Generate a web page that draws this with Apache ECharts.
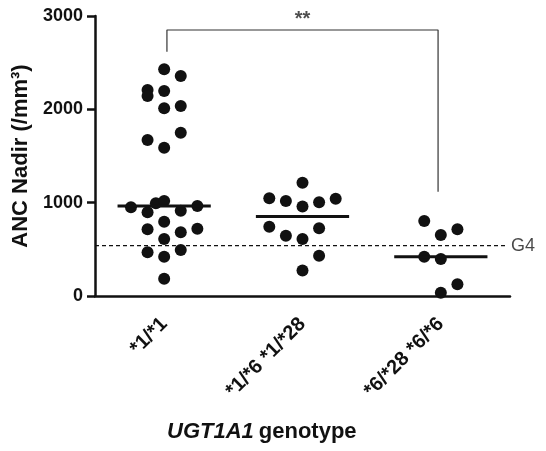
<!DOCTYPE html>
<html>
<head>
<meta charset="utf-8">
<script src="https://cdn.jsdelivr.net/npm/echarts@6/dist/echarts.min.js"></script>
<style>html,body{margin:0;padding:0;background:#fff}#c{width:546px;height:451px}</style>
</head>
<body>
<div id="c"></div>
<script>
// ---- data ----
var categories = ['*1/*1', '*1/*6 *1/*28', '*6/*28 *6/*6'];
var group1 = [2429, 2357, 2207, 2143, 2196, 2011, 2036, 1671, 1589, 1750,
              993, 1018, 897, 914, 964, 796, 715, 682, 721, 611, 468, 493, 421, 185, 950];
var jitter1 = [0, 0.12, -0.12, -0.12, 0, 0, 0.12, -0.12, 0, 0.12,
               -0.06, 0, -0.12, 0.12, 0.24, 0, -0.12, 0.12, 0.24, 0, -0.12, 0.12, 0, 0, -0.24];
var group2 = [1047, 1018, 1214, 959, 1004, 1042, 743, 646, 611, 273, 725, 432];
var jitter2 = [-0.24, -0.12, 0, 0, 0.12, 0.24, -0.24, -0.12, 0, 0, 0.12, 0.12];
var group3 = [804, 654, 715, 421, 396, 125, 35];
var jitter3 = [-0.12, 0, 0.12, -0.12, 0, 0.12, 0];
var yTicks = [0, 1000, 2000, 3000];
var g4Threshold = 540;
var sigLabel = '**';
var bracketY = 2850, bracketLeftFoot = 2618, bracketRightFoot = 1118;

function median(a) {
  var s = a.slice().sort(function (x, y) { return x - y; });
  var n = s.length;
  return n % 2 ? s[(n - 1) / 2] : (s[n / 2 - 1] + s[n / 2]) / 2;
}
function pts(vals, jit, gi) {
  return vals.map(function (v, i) { return [gi + jit[i], v]; });
}
var FONT = '"Liberation Sans", Arial, sans-serif';
var groups = [[group1, jitter1], [group2, jitter2], [group3, jitter3]];
var series = [];
groups.forEach(function (g, gi) {
  series.push({
    type: 'scatter', xAxisIndex: 1, yAxisIndex: 0,
    data: pts(g[0], g[1], gi), symbol: 'circle', symbolSize: 12,
    itemStyle: { color: '#111', opacity: 1 }, silent: true, z: 3
  });
  var m = median(g[0]);
  series.push({
    type: 'line', xAxisIndex: 1, data: [[gi - 0.337, m], [gi + 0.337, m]],
    symbol: 'none', lineStyle: { color: '#111', width: 3 }, silent: true, z: 4
  });
});
// G4 threshold line
series.push({
  type: 'line', xAxisIndex: 1, symbol: 'none', silent: true, z: 2,
  lineStyle: { color: '#111', width: 1.3, type: [4, 3] },
  data: [[-0.5, g4Threshold], [2.485, g4Threshold]]
});
series.push({
  type: 'scatter', xAxisIndex: 1, symbolSize: 0, silent: true,
  data: [{ value: [2.485, g4Threshold], label: { show: true, position: 'right', formatter: 'G4', distance: 3,
      fontFamily: FONT, fontSize: 18, color: '#1a1a1a' } }]
});
// significance bracket
series.push({
  type: 'line', xAxisIndex: 1, symbol: 'none', silent: true, z: 2,
  lineStyle: { color: '#333', width: 1.2 },
  data: [[0.02, bracketLeftFoot], [0.02, bracketY], [1.98, bracketY], [1.98, bracketRightFoot]]
});
series.push({
  type: 'scatter', xAxisIndex: 1, symbolSize: 0, silent: true,
  data: [{ value: [1, bracketY], label: { show: true, position: 'top', distance: 1,
    formatter: sigLabel, fontFamily: FONT, fontSize: 20, fontWeight: 'bold', color: '#222' } }]
});

var chart = echarts.init(document.getElementById('c'));
chart.setOption({
  animation: false,
  backgroundColor: '#fff',
  grid: { left: 95, right: 36, top: 16, bottom: 155 },
  title: {
    text: '{i|UGT1A1} {b|genotype}', left: 162, top: 416,
    textStyle: { rich: {
      i: { fontFamily: FONT, fontSize: 22, fontWeight: 'bold', fontStyle: 'italic', color: '#111' },
      b: { fontFamily: FONT, fontSize: 22, fontWeight: 'bold', color: '#111' } } }
  },
  xAxis: [{
    type: 'category', data: categories, boundaryGap: true,
    axisLine: { lineStyle: { color: '#111', width: 2.5 } },
    axisTick: { alignWithLabel: true, length: 7, lineStyle: { color: '#111', width: 2.5 } },
    axisLabel: { rotate: 45, fontFamily: FONT, fontSize: 20, fontWeight: 'bold', color: '#111', margin: 25, interval: 0 },
    splitLine: { show: false }
  }, {
    type: 'value', min: -0.5, max: 2.5, show: false, splitLine: { show: false }
  }],
  yAxis: [{
    type: 'value', min: yTicks[0], max: yTicks[yTicks.length - 1], interval: 1000,
    name: 'ANC Nadir (/mm³)', nameLocation: 'middle', nameGap: 54,
    nameTextStyle: { fontFamily: FONT, fontSize: 22, fontWeight: 'bold', color: '#111' },
    axisLine: { show: true, onZero: false, lineStyle: { color: '#111', width: 2.5 } },
    axisTick: { show: true, length: 8, lineStyle: { color: '#111', width: 2.5 } },
    axisLabel: { fontFamily: FONT, fontSize: 18, fontWeight: 'bold', color: '#111', margin: 12,
      formatter: function (v) { return String(v); } },
    splitLine: { show: false }
  }],
  series: series
});
</script>
</body>
</html>
